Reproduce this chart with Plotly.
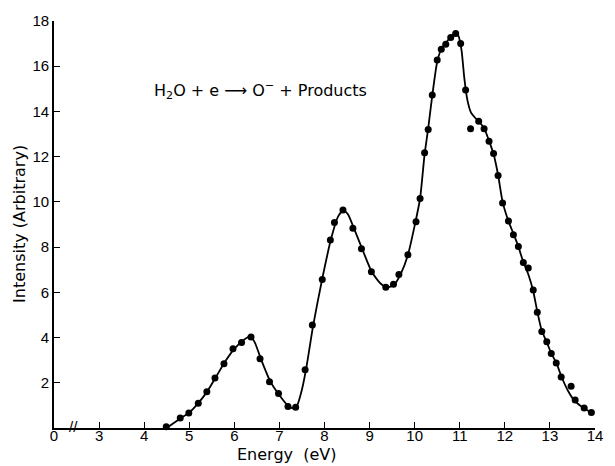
import plotly.graph_objects as go

# Measured points (energy eV, intensity arbitrary)
pt_energy = [4.49, 4.80, 4.99, 5.20, 5.39, 5.57, 5.77, 5.97, 6.16, 6.37, 6.57, 6.78, 6.98,
             7.19, 7.36, 7.57, 7.73, 7.95, 8.13, 8.22, 8.41, 8.63, 8.82, 9.04, 9.36, 9.53,
             9.65, 9.85, 10.03, 10.12, 10.22, 10.30, 10.39, 10.50, 10.59, 10.69, 10.80,
             10.91, 11.02, 11.13, 11.24, 11.42, 11.54, 11.65, 11.75, 11.85, 11.95, 12.08,
             12.19, 12.30, 12.41, 12.52, 12.63, 12.72, 12.82, 12.93, 13.03, 13.14, 13.25,
             13.47, 13.56, 13.76, 13.92]
pt_intensity = [0.05, 0.44, 0.66, 1.10, 1.60, 2.21, 2.84, 3.50, 3.78, 4.03, 3.06, 2.04, 1.53,
                0.95, 0.92, 2.58, 4.56, 6.57, 8.32, 9.09, 9.64, 8.83, 7.93, 6.91, 6.23, 6.36,
                6.79, 7.66, 9.12, 10.15, 12.17, 13.20, 14.73, 16.28, 16.75, 16.97, 17.27,
                17.45, 17.01, 14.95, 13.23, 13.57, 13.23, 12.68, 12.14, 11.17, 9.95, 9.16,
                8.55, 8.03, 7.32, 7.08, 6.10, 5.12, 4.27, 3.81, 3.30, 2.87, 2.26,
                1.85, 1.24, 0.88, 0.68]

# Smooth drawn curve through the data
curve_energy = [4.50, 4.80, 5.00, 5.20, 5.40, 5.60, 5.80, 6.00, 6.20, 6.35, 6.45, 6.60, 6.80,
                7.00, 7.20, 7.28, 7.38, 7.50, 7.60, 7.75, 7.95, 8.15, 8.30, 8.42, 8.52, 8.65,
                8.85, 9.05, 9.25, 9.40, 9.55, 9.70, 9.85, 10.00, 10.12, 10.22, 10.30, 10.40,
                10.50, 10.60, 10.70, 10.80, 10.90, 10.97, 11.04, 11.10, 11.17, 11.25, 11.35,
                11.45, 11.55, 11.65, 11.75, 11.85, 11.95, 12.08, 12.20, 12.30, 12.40, 12.52,
                12.63, 12.72, 12.82, 12.93, 13.03, 13.15, 13.25, 13.40, 13.55, 13.75, 13.92]
curve_intensity = [0.00, 0.42, 0.68, 1.10, 1.62, 2.28, 2.95, 3.50, 3.88, 4.05, 3.80, 3.00, 2.05,
                   1.45, 0.97, 0.88, 0.95, 1.70, 2.70, 4.55, 6.60, 8.40, 9.35, 9.64, 9.45, 8.85,
                   7.85, 6.90, 6.38, 6.22, 6.35, 6.85, 7.65, 8.95, 10.15, 12.10, 13.25, 14.85,
                   16.20, 16.80, 17.05, 17.30, 17.45, 17.35, 16.70, 15.50, 14.50, 13.95, 13.70,
                   13.50, 13.22, 12.70, 12.12, 11.20, 10.00, 9.15, 8.55, 8.02, 7.40, 6.80,
                   6.05, 5.15, 4.30, 3.80, 3.30, 2.85, 2.30, 1.65, 1.20, 0.88, 0.68]

x_tickvals = [2, 3, 4, 5, 6, 7, 8, 9, 10, 11, 12, 13, 14]
x_ticktext = ["0", "3", "4", "5", "6", "7", "8", "9", "10", "11", "12", "13", "14"]
y_tickvals = [2, 4, 6, 8, 10, 12, 14, 16, 18]

FONT = "Liberation Sans, Arial, sans-serif"
WIDE = "DejaVu Sans, Verdana, sans-serif"

fig = go.Figure()
fig.add_trace(go.Scatter(x=curve_energy, y=curve_intensity, mode="lines",
                         line=dict(color="black", width=1.8, shape="spline", smoothing=0.6),
                         hoverinfo="skip", showlegend=False))
fig.add_trace(go.Scatter(x=pt_energy, y=pt_intensity, mode="markers",
                         marker=dict(color="black", size=7),
                         showlegend=False, cliponaxis=False))

fig.update_layout(
    width=615, height=466,
    margin=dict(l=54, r=12.3, t=15.7, b=37.5),
    paper_bgcolor="white", plot_bgcolor="white",
    font=dict(family=FONT, color="black", size=15),
    xaxis=dict(range=[2, 14], tickvals=x_tickvals, ticktext=x_ticktext,
               showline=True, linecolor="black", linewidth=1.6,
               ticks="inside", ticklen=6, tickwidth=1.4, tickcolor="black",
               ticklabelstandoff=-7,
               showgrid=False, zeroline=False, tickfont=dict(size=15)),
    yaxis=dict(range=[0, 18], tickvals=y_tickvals,
               showline=True, linecolor="black", linewidth=1.6,
               ticks="inside", ticklen=6, tickwidth=1.4, tickcolor="black",
               showgrid=False, zeroline=False, tickfont=dict(size=15)),
    annotations=[
        dict(text="H<sub>2</sub>O + e \u27f6 O<sup>\u2212</sup> + Products",
             xref="paper", yref="paper",
             x=(153 - 54) / 548.7, y=(428.5 - 86) / 412.8,
             xanchor="left", yanchor="middle", showarrow=False,
             font=dict(size=16, family=WIDE)),
        dict(text="Energy  (eV)", xref="paper", yref="paper",
             x=(290 - 54) / 548.7, y=(428.5 - 455) / 412.8,
             xanchor="center", yanchor="middle", showarrow=False,
             borderpad=0, font=dict(size=16, family=WIDE)),
        dict(text="Intensity (Arbitrary)", xref="paper", yref="paper",
             x=(19 - 54) / 548.7, y=(428.5 - 221) / 412.8, textangle=-90,
             xanchor="center", yanchor="middle", showarrow=False,
             font=dict(size=16, family=WIDE)),
        dict(text="//", xref="x", yref="y", x=2.43, y=0.05,
             xanchor="center", yanchor="middle", showarrow=False,
             font=dict(size=15, family=FONT)),
    ],
)

fig.write_html(
    "out.html",
    config={"displayModeBar": False},
    post_script="document.body.style.margin='0';"
                "document.documentElement.style.overflow='hidden';",
)
